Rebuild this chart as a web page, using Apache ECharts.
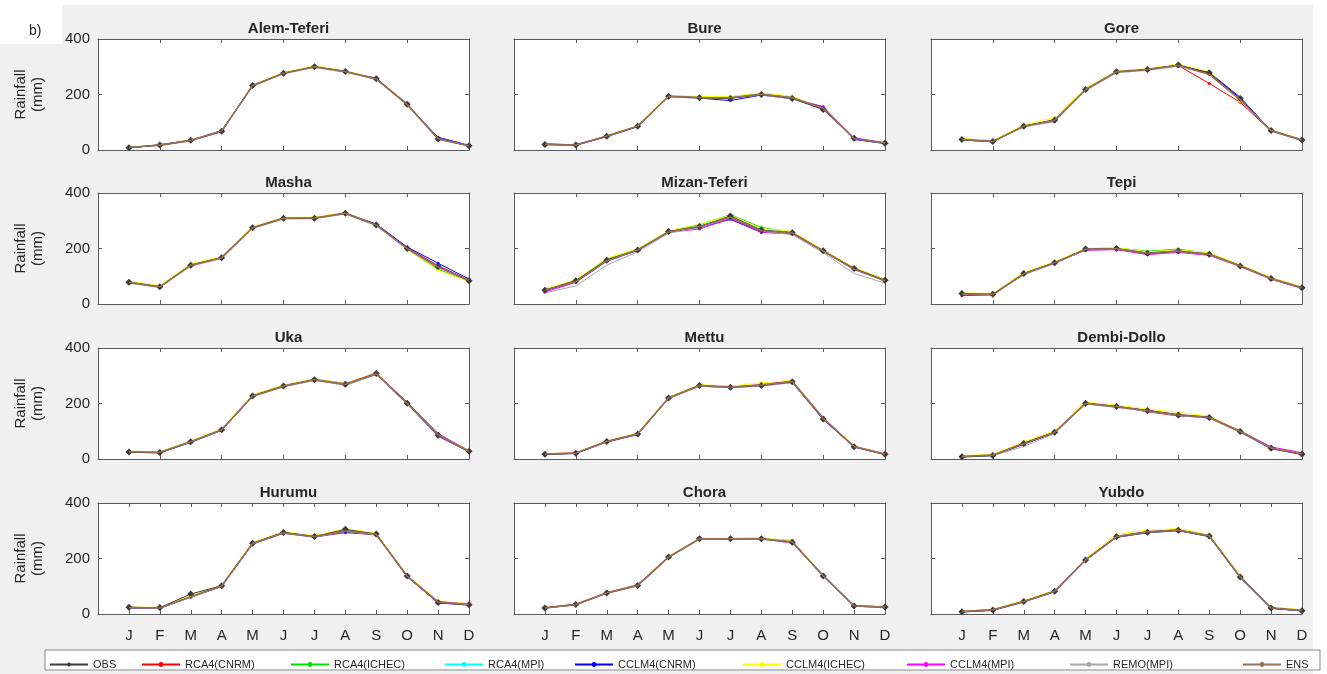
<!DOCTYPE html>
<html lang="en">
<head>
<meta charset="UTF-8">
<title>Rainfall by station</title>
<script src="https://cdn.jsdelivr.net/npm/echarts@6/dist/echarts.min.js"></script>
<style>
  html, body { margin: 0; padding: 0; background: #f0f0f0; }
  #main { width: 1327px; height: 674px; }
</style>
</head>
<body>
<div id="main"></div>
<script>
// month labels, series names and colours
var months = ['J', 'F', 'M', 'A', 'M', 'J', 'J', 'A', 'S', 'O', 'N', 'D'];
var seriesNames = ['OBS', 'RCA4(CNRM)', 'RCA4(ICHEC)', 'RCA4(MPI)', 'CCLM4(CNRM)', 'CCLM4(ICHEC)', 'CCLM4(MPI)', 'REMO(MPI)', 'ENS'];
var seriesColors = ['#000000', '#ff0000', '#00e000', '#00ffff', '#0000ff', '#ffff00', '#ff00ff', '#a8a8a8', '#9a6e55'];
var stations = ['Alem-Teferi', 'Bure', 'Gore', 'Masha', 'Mizan-Teferi', 'Tepi', 'Uka', 'Mettu', 'Dembi-Dollo', 'Hurumu', 'Chora', 'Yubdo'];
var yTicks = [0, 200, 400];

// rows: OBS, RCA4(CNRM), RCA4(ICHEC), RCA4(MPI), CCLM4(CNRM), CCLM4(ICHEC), CCLM4(MPI), REMO(MPI), ENS
var alemTeferi = [
    [8, 18, 35, 68, 232, 277, 300, 283, 257, 165, 40, 15],
    [10, 16, 33, 66, 235, 275, 302, 282, 258, 168, 38, 16],
    [9, 17, 34, 69, 233, 279, 298, 285, 255, 163, 40, 14],
    [8, 18, 36, 67, 231, 276, 301, 284, 256, 166, 41, 15],
    [7, 19, 35, 70, 230, 278, 299, 281, 259, 162, 46, 17],
    [9, 17, 37, 68, 234, 280, 303, 286, 257, 167, 39, 15],
    [8, 18, 34, 66, 232, 276, 300, 283, 254, 164, 42, 16],
    [9, 19, 33, 68, 229, 274, 297, 280, 255, 160, 38, 14],
    [9, 18, 35, 68, 232, 277, 300, 283, 256, 164, 41, 15]
];
var bure = [
    [20, 18, 50, 86, 194, 188, 186, 200, 186, 146, 42, 24],
    [22, 17, 49, 85, 196, 190, 190, 203, 190, 150, 40, 26],
    [21, 18, 51, 87, 193, 192, 192, 201, 188, 148, 42, 25],
    [20, 19, 50, 86, 195, 189, 189, 202, 189, 152, 43, 24],
    [19, 17, 48, 84, 192, 187, 178, 198, 185, 156, 38, 23],
    [21, 18, 52, 88, 197, 193, 193, 206, 194, 150, 41, 25],
    [22, 19, 50, 85, 194, 188, 188, 199, 186, 155, 44, 26],
    [20, 18, 49, 86, 192, 186, 187, 198, 184, 147, 41, 24],
    [21, 18, 50, 86, 194, 189, 188, 201, 188, 151, 41, 25]
];
var gore = [
    [38, 31, 86, 108, 218, 282, 290, 306, 278, 186, 70, 36],
    [40, 33, 84, 110, 216, 284, 292, 304, 240, 172, 68, 35],
    [37, 30, 88, 105, 220, 280, 288, 305, 275, 180, 72, 37],
    [39, 32, 85, 107, 217, 283, 291, 307, 277, 184, 70, 36],
    [36, 29, 87, 103, 219, 281, 289, 303, 280, 190, 69, 34],
    [41, 34, 90, 118, 222, 285, 293, 310, 282, 176, 73, 38],
    [38, 31, 84, 106, 215, 280, 290, 306, 276, 183, 71, 36],
    [37, 30, 83, 102, 214, 278, 287, 302, 274, 179, 67, 35],
    [38, 31, 86, 107, 218, 282, 290, 305, 272, 181, 70, 36]
];
var masha = [
    [78, 62, 140, 167, 275, 309, 309, 327, 285, 200, 135, 84],
    [80, 64, 138, 170, 277, 311, 311, 329, 287, 203, 138, 86],
    [76, 60, 142, 168, 273, 307, 312, 325, 283, 198, 125, 82],
    [79, 63, 141, 166, 276, 310, 308, 328, 286, 201, 133, 85],
    [77, 61, 139, 165, 274, 308, 310, 326, 288, 205, 147, 90],
    [82, 66, 145, 171, 278, 312, 313, 330, 284, 196, 122, 80],
    [78, 62, 138, 167, 275, 309, 309, 327, 285, 202, 136, 86],
    [75, 60, 136, 164, 272, 306, 307, 324, 282, 197, 130, 83],
    [78, 62, 140, 167, 275, 309, 310, 327, 285, 200, 134, 85]
];
var mizanTeferi = [
    [50, 84, 158, 195, 261, 279, 317, 267, 257, 192, 128, 86],
    [52, 82, 160, 197, 262, 280, 310, 260, 255, 194, 130, 88],
    [50, 86, 162, 196, 263, 286, 322, 276, 258, 193, 127, 85],
    [49, 83, 157, 194, 260, 281, 315, 265, 256, 191, 129, 87],
    [48, 80, 155, 193, 258, 276, 305, 258, 254, 190, 126, 84],
    [54, 88, 165, 199, 264, 288, 320, 272, 262, 195, 131, 89],
    [43, 78, 154, 194, 259, 270, 308, 259, 253, 190, 125, 84],
    [40, 65, 140, 188, 255, 275, 312, 262, 250, 185, 110, 75],
    [50, 81, 156, 195, 260, 279, 313, 264, 256, 191, 125, 84]
];
var tepi = [
    [38, 35, 110, 149, 198, 200, 183, 191, 179, 137, 92, 59],
    [30, 33, 108, 150, 196, 198, 182, 189, 177, 139, 94, 60],
    [36, 36, 111, 148, 199, 202, 190, 198, 182, 140, 93, 61],
    [37, 35, 109, 149, 197, 199, 184, 192, 180, 138, 91, 58],
    [35, 34, 107, 147, 195, 197, 181, 190, 178, 136, 90, 57],
    [40, 38, 114, 152, 201, 203, 188, 195, 185, 142, 95, 62],
    [33, 33, 108, 148, 194, 196, 178, 186, 175, 135, 89, 56],
    [36, 34, 105, 146, 196, 198, 183, 190, 177, 136, 90, 58],
    [36, 35, 109, 149, 197, 199, 184, 191, 179, 138, 92, 59]
];
var uka = [
    [25, 23, 62, 105, 227, 263, 286, 269, 308, 201, 86, 28],
    [27, 25, 64, 107, 230, 265, 288, 272, 310, 205, 90, 30],
    [26, 24, 63, 106, 228, 264, 287, 265, 306, 200, 85, 27],
    [25, 22, 61, 104, 226, 262, 285, 270, 307, 202, 87, 29],
    [24, 22, 60, 103, 225, 261, 284, 268, 305, 199, 82, 26],
    [28, 26, 65, 108, 232, 266, 289, 271, 311, 198, 88, 31],
    [24, 23, 62, 105, 227, 263, 286, 269, 309, 203, 92, 28],
    [26, 24, 61, 104, 224, 260, 283, 266, 304, 197, 84, 27],
    [26, 24, 62, 105, 227, 263, 286, 269, 307, 201, 87, 28]
];
var mettu = [
    [17, 21, 63, 90, 220, 265, 259, 265, 278, 144, 44, 17],
    [19, 22, 64, 91, 222, 266, 261, 268, 282, 150, 46, 18],
    [18, 21, 62, 89, 219, 264, 258, 266, 277, 145, 45, 17],
    [17, 20, 63, 90, 221, 266, 260, 267, 279, 146, 44, 16],
    [16, 20, 61, 88, 218, 263, 257, 264, 276, 142, 43, 16],
    [19, 23, 66, 93, 223, 268, 262, 275, 283, 148, 47, 19],
    [18, 22, 64, 91, 220, 265, 259, 266, 280, 147, 45, 18],
    [17, 21, 62, 89, 218, 262, 257, 263, 275, 143, 43, 17],
    [18, 21, 63, 90, 220, 265, 259, 267, 279, 146, 45, 17]
];
var dembiDollo = [
    [8, 13, 56, 96, 201, 189, 175, 159, 150, 99, 39, 17],
    [10, 15, 58, 98, 203, 191, 170, 155, 151, 101, 41, 19],
    [9, 14, 55, 97, 200, 190, 176, 160, 152, 100, 40, 18],
    [8, 13, 54, 95, 202, 188, 174, 158, 149, 98, 38, 17],
    [7, 12, 53, 94, 199, 187, 173, 157, 148, 97, 37, 16],
    [12, 17, 62, 102, 205, 194, 180, 168, 155, 102, 42, 20],
    [9, 14, 57, 96, 201, 189, 175, 160, 151, 101, 44, 22],
    [10, 12, 45, 92, 198, 186, 172, 156, 147, 96, 38, 16],
    [9, 14, 55, 96, 201, 189, 174, 159, 150, 99, 40, 18]
];
var hurumu = [
    [24, 23, 72, 102, 255, 294, 279, 305, 288, 137, 41, 33],
    [22, 20, 62, 100, 253, 292, 278, 293, 286, 135, 40, 38],
    [24, 22, 60, 101, 256, 295, 280, 300, 289, 138, 44, 34],
    [23, 21, 63, 102, 254, 293, 279, 298, 287, 136, 42, 33],
    [22, 21, 61, 99, 252, 291, 277, 296, 285, 134, 40, 32],
    [25, 24, 66, 104, 258, 297, 282, 308, 291, 140, 48, 36],
    [24, 22, 62, 101, 255, 294, 279, 299, 288, 137, 45, 34],
    [23, 21, 60, 100, 252, 291, 277, 297, 285, 135, 42, 33],
    [23, 22, 62, 101, 254, 293, 279, 299, 287, 136, 43, 34]
];
var chora = [
    [22, 34, 76, 103, 205, 271, 271, 271, 259, 137, 29, 25],
    [23, 35, 77, 106, 207, 272, 272, 273, 260, 139, 30, 26],
    [22, 33, 75, 102, 204, 270, 270, 270, 265, 136, 28, 24],
    [21, 34, 76, 104, 206, 272, 271, 272, 261, 138, 29, 25],
    [22, 33, 75, 102, 204, 270, 270, 270, 258, 136, 28, 24],
    [24, 36, 78, 105, 208, 273, 273, 274, 263, 140, 31, 27],
    [23, 35, 77, 104, 206, 271, 272, 272, 255, 141, 30, 26],
    [21, 33, 74, 101, 203, 269, 269, 269, 257, 135, 28, 24],
    [22, 34, 76, 103, 205, 271, 271, 271, 260, 138, 29, 25]
];
var yubdo = [
    [8, 14, 45, 82, 195, 278, 295, 302, 281, 133, 22, 12],
    [10, 16, 47, 84, 197, 280, 297, 304, 283, 136, 24, 14],
    [9, 15, 44, 81, 194, 277, 294, 301, 280, 132, 21, 11],
    [8, 14, 46, 83, 196, 279, 296, 303, 282, 134, 23, 13],
    [7, 13, 43, 80, 193, 276, 293, 300, 279, 131, 20, 11],
    [11, 17, 49, 86, 199, 288, 302, 308, 286, 138, 25, 15],
    [9, 15, 45, 82, 195, 278, 295, 302, 281, 133, 22, 12],
    [8, 14, 44, 81, 194, 277, 294, 301, 280, 132, 22, 12],
    [9, 15, 45, 82, 195, 279, 296, 303, 282, 134, 22, 13]
];
var stationData = [alemTeferi, bure, gore, masha, mizanTeferi, tepi, uka, mettu, dembiDollo, hurumu, chora, yubdo];

var myChart = echarts.init(document.getElementById('main'));

// panel layout (pixels)
var colLeft = [98, 514, 931];
var rowTop = [39, 193, 348, 503];
var boxW = 371, boxH = 111;
var axisColor = '#5a5a5a';
var textColor = '#262626';
var font = 'Liberation Sans, Arial, sans-serif';

var grids = [], xAxes = [], yAxes = [], titles = [], series = [];

stations.forEach(function (name, i) {
    var row = Math.floor(i / 3), col = i % 3;
    var bottomRow = row === 3;
    grids.push({
        left: colLeft[col], top: rowTop[row], width: boxW, height: boxH,
        show: true, backgroundColor: '#ffffff', borderWidth: 0
    });
    titles.push({
        text: name,
        left: colLeft[col] + boxW / 2, top: rowTop[row] - 23,
        textAlign: 'center',
        textStyle: { fontFamily: font, fontSize: 15, fontWeight: 'bold', color: textColor }
    });
    var xBase = {
        gridIndex: i, type: 'value', min: 0, max: 12, interval: bottomRow ? 1 : 2,
        axisLine: { show: true, onZero: false, lineStyle: { color: axisColor, width: 1 } },
        axisTick: { show: true, inside: true, length: 4, lineStyle: { color: axisColor } },
        splitLine: { show: false }
    };
    xAxes.push(Object.assign({}, xBase, {
        position: 'bottom',
        axisLabel: {
            show: bottomRow, margin: 14, fontSize: 15, color: textColor, fontFamily: font,
            formatter: function (v) { return months[v - 1] || ''; }
        }
    }));
    xAxes.push(Object.assign({}, xBase, { position: 'top', axisLabel: { show: false } }));
    var yBase = {
        gridIndex: i, type: 'value', min: yTicks[0], max: yTicks[yTicks.length - 1], interval: 200,
        axisLine: { show: true, onZero: false, lineStyle: { color: axisColor, width: 1 } },
        axisTick: { show: true, inside: true, length: 4, lineStyle: { color: axisColor } },
        splitLine: { show: false }
    };
    yAxes.push(Object.assign({}, yBase, {
        position: 'left',
        name: col === 0 ? 'Rainfall\n(mm)' : '',
        nameLocation: 'middle', nameRotate: 90, nameGap: 52,
        nameTextStyle: { fontFamily: font, fontSize: 15, color: textColor, lineHeight: 17 },
        axisLabel: { show: col === 0, margin: 8, fontSize: 15, color: textColor, fontFamily: font }
    }));
    yAxes.push(Object.assign({}, yBase, { position: 'right', axisLabel: { show: false } }));

    stationData[i].forEach(function (vals, k) {
        var isObs = k === 0;
        var noMark = k >= 7;
        series.push({
            type: 'line',
            name: seriesNames[k],
            xAxisIndex: 2 * i,
            yAxisIndex: 2 * i,
            z: isObs ? 3 : (k === 8 ? 4 : 2),
            data: vals.map(function (v, j) { return [j + 1, v]; }),
            symbol: isObs ? 'diamond' : (noMark ? 'none' : 'circle'),
            symbolSize: isObs ? 7 : 3,
            showSymbol: !noMark,
            color: seriesColors[k],
            itemStyle: { color: isObs ? '#3a3a3a' : seriesColors[k] },
            lineStyle: { color: isObs ? '#3a3a3a' : seriesColors[k], width: k === 8 ? 1.5 : 1 },
            silent: true,
            animation: false
        });
    });
});

// one legend per item so each sits where the original puts it
var legendLeft = [44, 136, 285, 439, 569, 737, 901, 1064, 1237];
var legends = seriesNames.map(function (n, k) {
    return {
        data: [n], left: legendLeft[k], top: 654,
        itemWidth: 38, itemHeight: 6, itemGap: 4,
        textStyle: { fontFamily: font, fontSize: 11, color: textColor },
        selectedMode: false
    };
});

option = {
    backgroundColor: '#f0f0f0',
    title: titles.concat([{
        text: 'b)', left: 24, top: 19,
        textStyle: { fontFamily: font, fontSize: 14, fontWeight: 'normal', color: textColor }
    }]),
    grid: grids,
    xAxis: xAxes,
    yAxis: yAxes,
    legend: legends,
    graphic: [
        { type: 'rect', shape: { x: 0, y: 0, width: 62, height: 44 }, style: { fill: '#ffffff' }, z: -10 },
        { type: 'rect', shape: { x: 0, y: 0, width: 1327, height: 5 }, style: { fill: '#ffffff' }, z: -10 },
        { type: 'rect', shape: { x: 1313, y: 0, width: 14, height: 674 }, style: { fill: '#ffffff' }, z: -10 },
        { type: 'rect', shape: { x: 45, y: 650, width: 1275, height: 20 }, style: { fill: '#ffffff', stroke: '#8a8a8a', lineWidth: 1 }, z: -5 }
    ],
    series: series
};

myChart.setOption(option);
</script>
</body>
</html>
